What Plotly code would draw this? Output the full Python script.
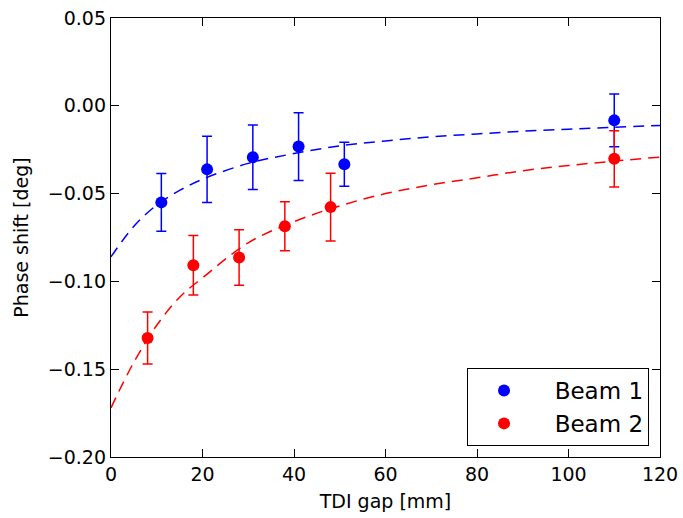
import plotly.graph_objects as go

# Data points
b1_x = [11, 21, 31, 41, 51, 110]
b1_y = [-0.055, -0.0362, -0.0293, -0.0232, -0.0333, -0.0083]
b1_err = [0.0165, 0.0188, 0.0183, 0.0193, 0.0125, 0.0150]

b2_x = [8, 18, 28, 38, 48, 110]
b2_y = [-0.1322, -0.0908, -0.0864, -0.0686, -0.0577, -0.0302]
b2_err = [0.0148, 0.0170, 0.0158, 0.0140, 0.0193, 0.0160]

# Fit curves
fit_x = [0, 5, 10, 15, 20, 30, 40, 50, 60, 70, 80, 90, 100, 110, 120]
fit1_y = [-0.086, -0.0686, -0.0565, -0.0482, -0.0418, -0.0328, -0.0272, -0.0228,
          -0.0200, -0.0177, -0.0160, -0.0145, -0.0133, -0.0122, -0.0112]
fit2_y = [-0.172, -0.146, -0.125, -0.109, -0.098, -0.078, -0.066, -0.057,
          -0.050, -0.045, -0.041, -0.037, -0.034, -0.0315, -0.0292]

x_ticks = [0, 20, 40, 60, 80, 100, 120]
y_ticks = [0.05, 0.00, -0.05, -0.10, -0.15, -0.20]

BLUE = "#0000ff"
RED = "#ff0000"
FONT = "DejaVu Sans"

fig = go.Figure()
fig.add_trace(go.Scatter(x=fit_x, y=fit1_y, mode="lines", line=dict(color=BLUE, width=1.5, dash="11px,7px", shape="spline"),
                         showlegend=False, hoverinfo="skip"))
fig.add_trace(go.Scatter(x=fit_x, y=fit2_y, mode="lines", line=dict(color=RED, width=1.5, dash="11px,7px", shape="spline"),
                         showlegend=False, hoverinfo="skip"))
fig.add_trace(go.Scatter(x=b1_x, y=b1_y, mode="markers", name="\u00a0\u00a0Beam 1",
                         marker=dict(color=BLUE, size=12, line=dict(width=0)),
                         error_y=dict(type="data", array=b1_err, color=BLUE, thickness=1.5, width=5)))
fig.add_trace(go.Scatter(x=b2_x, y=b2_y, mode="markers", name="\u00a0\u00a0Beam 2",
                         marker=dict(color=RED, size=12, line=dict(width=0)),
                         error_y=dict(type="data", array=b2_err, color=RED, thickness=1.5, width=5)))

axis_common = dict(showgrid=False, zeroline=False, showline=True, linecolor="black", linewidth=1.3,
                   mirror="ticks", ticks="inside", ticklen=8, tickwidth=1.2, tickcolor="black",
                   automargin=False,
                   tickfont=dict(family=FONT, size=19, color="black"))

fig.update_xaxes(range=[0, 120], tickvals=x_ticks, ticktext=[str(v) for v in x_ticks],
                 title=dict(text="TDI gap [mm]", font=dict(family=FONT, size=19, color="black"), standoff=10),
                 **axis_common)
fig.update_yaxes(range=[-0.20, 0.05], tickvals=y_ticks, tickformat=".2f",
                 title=dict(text="Phase shift [deg]", font=dict(family=FONT, size=19, color="black"), standoff=14),
                 **axis_common)

fig.update_layout(
    width=683, height=518,
    margin=dict(l=111, r=23, t=18, b=61),
    plot_bgcolor="white", paper_bgcolor="white",
    font=dict(family=FONT, color="black"),
    legend=dict(x=0.98, y=0.025, xanchor="right", yanchor="bottom",
                bordercolor="black", borderwidth=1, bgcolor="white",
                font=dict(family=FONT, size=23, color="black"),
                itemwidth=62,
                tracegroupgap=0, itemsizing="constant"),
)

fig.write_html("out.html")
